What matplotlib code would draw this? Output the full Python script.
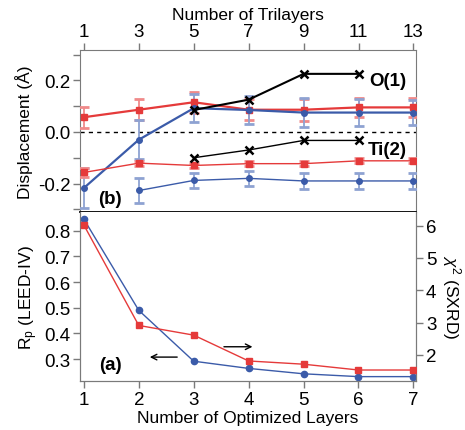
import matplotlib
matplotlib.use("Agg")
import matplotlib.pyplot as plt
import numpy as np

plt.rcParams['font.family'] = ['Liberation Sans', 'DejaVu Sans']
plt.rcParams['mathtext.fontset'] = 'custom'
plt.rcParams['mathtext.rm'] = 'Liberation Sans'
plt.rcParams['mathtext.it'] = 'Liberation Sans:italic'

# ---- data: top panel (b) ----
trilayers = [1, 3, 5, 7, 9, 11, 13]
o1_red = [0.057, 0.086, 0.115, 0.086, 0.086, 0.095, 0.095]
o1_red_err = [0.04, 0.04, 0.04, 0.04, 0.042, 0.038, 0.038]
o1_blue = [-0.217, -0.03, 0.092, 0.085, 0.075, 0.075, 0.075]
o1_blue_err = [0.077, 0.075, 0.055, 0.055, 0.055, 0.052, 0.05]
ti2_red = [-0.157, -0.121, -0.13, -0.123, -0.123, -0.112, -0.112]
ti2_red_err = [0.016, 0.01, 0.01, 0.01, 0.01, 0.01, 0.01]
tri_blue_ti = [3, 5, 7, 9, 11, 13]
ti2_blue = [-0.227, -0.188, -0.18, -0.19, -0.19, -0.19]
ti2_blue_err = [0.05, 0.03, 0.03, 0.03, 0.03, 0.03]
tri_black = [5, 7, 9, 11]
o1_black = [0.085, 0.125, 0.225, 0.225]
ti2_black = [-0.10, -0.07, -0.033, -0.033]

# ---- data: bottom panel (a) ----
layers = [1, 2, 3, 4, 5, 6, 7]
rp_leed = [0.845, 0.49, 0.292, 0.264, 0.243, 0.232, 0.232]
chi2_sxrd = [6.02, 2.91, 2.61, 1.81, 1.71, 1.53, 1.53]

RED = '#e53a3a'
BLUE = '#3b5ba9'
RED_L = '#f08a8a'
BLUE_L = '#8ea2d2'
GRAY = '#7a7a7a'
FS = 12.5
TS = 13.5

fig = plt.figure(figsize=(4.65, 4.31), dpi=100)
axt = fig.add_axes([0.172, 0.506, 0.723, 0.376])
axb = fig.add_axes([0.172, 0.114, 0.723, 0.392])
axr = axb.twinx()

# top panel
axt.axhline(0, color='black', ls=(0, (3, 3)), lw=1.0, zorder=1)
kw = dict(capsize=3.5, capthick=2, elinewidth=1.3, zorder=3)
axt.errorbar(trilayers, o1_red, yerr=o1_red_err, color=RED, ecolor=RED_L,
             marker='s', ms=4.5, lw=1.6, **kw)
axt.errorbar(trilayers, o1_blue, yerr=o1_blue_err, color=BLUE, ecolor=BLUE_L,
             marker='o', ms=4, lw=1.6, **kw)
axt.errorbar(trilayers, ti2_red, yerr=ti2_red_err, color=RED, ecolor=RED_L,
             marker='s', ms=4.5, lw=1.0, **kw)
axt.errorbar(tri_blue_ti, ti2_blue, yerr=ti2_blue_err, color=BLUE, ecolor=BLUE_L,
             marker='o', ms=4, lw=1.0, **kw)
axt.plot(tri_black, o1_black, color='black', marker='x', ms=5.5, mew=1.8, lw=1.5, zorder=4)
axt.plot(tri_black, ti2_black, color='black', marker='x', ms=5.5, mew=1.8, lw=1.0, zorder=4)

axt.text(11.4, 0.198, 'O(1)', fontsize=TS, fontweight='bold', va='center', ha='left')
axt.text(11.35, -0.069, 'Ti(2)', fontsize=TS, fontweight='bold', va='center', ha='left')
axt.text(1.95, -0.258, '(b)', fontsize=TS, fontweight='bold', va='center', ha='center')

axt.set_xlim(0.855, 13.1)
axt.set_ylim(-0.31, 0.318)
axt.xaxis.tick_top()
axt.xaxis.set_label_position('top')
axt.set_xticks(trilayers)
axt.set_xlabel('Number of Trilayers', fontsize=FS, labelpad=3)
axt.set_yticks([-0.2, 0.0, 0.2])
axt.set_yticklabels(['-0.2', '0.0', '0.2'])
axt.set_yticks([-0.3, -0.1, 0.1, 0.3], minor=True)
axt.set_ylabel('Displacement (Å)', fontsize=FS, labelpad=3)
axt.tick_params(which='both', direction='out', length=5, width=1, color=GRAY, labelsize=TS, pad=2)
for s in ['left', 'right', 'top']:
    axt.spines[s].set_color(GRAY)
axt.spines['bottom'].set_color('black')
axt.spines['bottom'].set_linewidth(1.3)
axt.spines['bottom'].set_zorder(5)

# bottom panel
axb.plot(layers, rp_leed, color=BLUE, marker='o', ms=4.5, lw=1.0, zorder=3)
axr.plot(layers, chi2_sxrd, color=RED, marker='s', ms=5, lw=1.0, zorder=3)
axb.set_xlim(0.93, 7.05)
axb.set_ylim(0.2155, 0.873)
axr.set_ylim(1.194, 6.425)
axb.set_xticks(layers)
axb.set_yticks([0.3, 0.4, 0.5, 0.6, 0.7, 0.8])
axr.set_yticks([2, 3, 4, 5, 6])
axb.set_xlabel('Number of Optimized Layers', fontsize=FS, labelpad=2)
axb.set_ylabel(r'R$_\mathrm{p}$ (LEED-IV)', fontsize=FS, labelpad=3)
axr.set_ylabel(r'$\chi^2$ (SXRD)', fontsize=FS, rotation=270, labelpad=19)
for a in (axb, axr):
    a.tick_params(which='both', direction='out', length=5, width=1, color=GRAY, labelsize=TS, pad=2)
    for s in ['left', 'right', 'bottom']:
        a.spines[s].set_color(GRAY)
    a.spines['top'].set_visible(False)

axb.annotate('', xy=(2.15, 0.308), xytext=(2.75, 0.308),
             arrowprops=dict(arrowstyle='->', color='black', lw=1.0))
axr.annotate('', xy=(4.12, 2.25), xytext=(3.50, 2.25),
             arrowprops=dict(arrowstyle='->', color='black', lw=1.0))
axb.text(1.49, 0.278, '(a)', fontsize=TS, fontweight='bold', va='center', ha='center')

fig.savefig('out.png', dpi=100)
